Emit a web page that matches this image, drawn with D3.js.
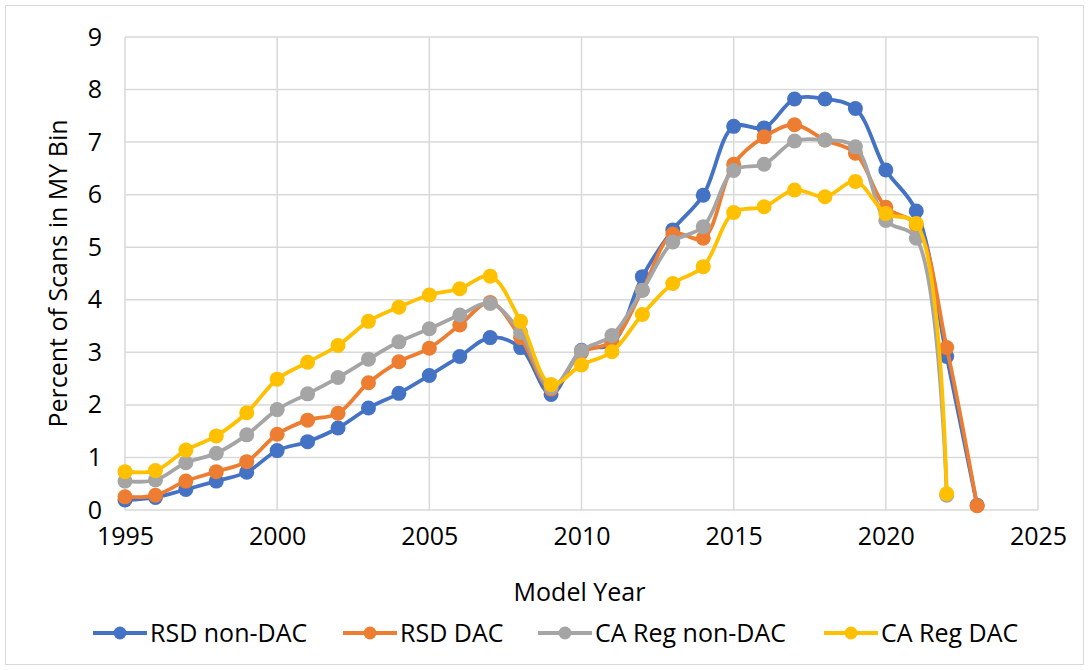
<!DOCTYPE html>
<html>
<head>
<meta charset="utf-8">
<script src="https://cdn.jsdelivr.net/npm/d3@7"></script>
<style>
  html, body { margin: 0; padding: 0; background: #fff; }
  svg text { font-family: "Open Sans", "Noto Sans", sans-serif; fill: #000; }
</style>
</head>
<body>
<svg id="chart" width="1089" height="670"></svg>
<script>
// ---- data ----
var years = [1995, 1996, 1997, 1998, 1999, 2000, 2001, 2002, 2003, 2004,
             2005, 2006, 2007, 2008, 2009, 2010, 2011, 2012, 2013, 2014,
             2015, 2016, 2017, 2018, 2019, 2020, 2021, 2022, 2023];

var rsdNonDac = [0.19, 0.24, 0.39, 0.55, 0.72, 1.13, 1.30, 1.56, 1.94, 2.22,
                 2.56, 2.92, 3.28, 3.09, 2.20, 3.04, 3.16, 4.44, 5.33, 5.99,
                 7.30, 7.27, 7.82, 7.82, 7.64, 6.47, 5.69, 2.92, 0.09];
var rsdDac    = [0.25, 0.28, 0.55, 0.73, 0.92, 1.44, 1.71, 1.84, 2.42, 2.82,
                 3.08, 3.52, 3.95, 3.28, 2.30, 3.00, 3.20, 4.18, 5.25, 5.17,
                 6.58, 7.10, 7.33, 7.04, 6.79, 5.76, 5.42, 3.09, 0.08];
var caNonDac  = [0.55, 0.57, 0.90, 1.08, 1.43, 1.91, 2.21, 2.52, 2.87, 3.20,
                 3.45, 3.71, 3.93, 3.38, 2.33, 3.03, 3.32, 4.18, 5.10, 5.39,
                 6.46, 6.58, 7.02, 7.04, 6.91, 5.51, 5.17, 0.28, null];
var caDac     = [0.73, 0.75, 1.14, 1.41, 1.85, 2.49, 2.81, 3.13, 3.59, 3.86,
                 4.09, 4.21, 4.45, 3.59, 2.39, 2.76, 3.01, 3.72, 4.31, 4.63,
                 5.66, 5.77, 6.09, 5.96, 6.25, 5.64, 5.45, 0.31, null];

var seriesNames  = ['RSD non-DAC', 'RSD DAC', 'CA Reg non-DAC', 'CA Reg DAC'];
var seriesValues = [rsdNonDac, rsdDac, caNonDac, caDac];
var seriesColors = ['#4472C4', '#ED7D31', '#A5A5A5', '#FFC000'];

var xTicks = [1995, 2000, 2005, 2010, 2015, 2020, 2025];
var yTicks = [0, 1, 2, 3, 4, 5, 6, 7, 8, 9];

// ---- layout ----
var W = 1089, H = 670;
var svg = d3.select('#chart');
var grid = '#d9d9d9';
var FS = 25;

// chart area border
svg.append('rect')
  .attr('x', 5.5).attr('y', 5.5)
  .attr('width', W - 11).attr('height', H - 11)
  .attr('fill', '#fff').attr('stroke', grid).attr('stroke-width', 1);

var x = d3.scaleLinear().domain([1995, 2025]).range([125, 1038]);
var y = d3.scaleLinear().domain([0, 9]).range([510, 37]);

// gridlines
svg.append('g')
  .selectAll('line.h')
  .data(yTicks)
  .join('line')
  .attr('x1', x(1995)).attr('x2', x(2025))
  .attr('y1', function (d) { return y(d); })
  .attr('y2', function (d) { return y(d); })
  .attr('stroke', grid).attr('stroke-width', 1.5);

svg.append('g')
  .selectAll('line.v')
  .data(xTicks)
  .join('line')
  .attr('y1', y(0)).attr('y2', y(9))
  .attr('x1', function (d) { return x(d); })
  .attr('x2', function (d) { return x(d); })
  .attr('stroke', grid).attr('stroke-width', 1.5);

// axes (labels only, lines come from gridlines)
var xAxis = d3.axisBottom(x).tickValues(xTicks).tickFormat(d3.format('d')).tickSize(0).tickPadding(17);
var gx = svg.append('g').attr('transform', 'translate(0,' + y(0) + ')').call(xAxis);
gx.select('.domain').remove();
gx.selectAll('text').style('font-size', FS + 'px').attr('dy', '0.71em');

var yAxis = d3.axisLeft(y).tickValues(yTicks).tickSize(0).tickPadding(23);
var gy = svg.append('g').attr('transform', 'translate(' + x(1995) + ',0)').call(yAxis);
gy.select('.domain').remove();
gy.selectAll('text').style('font-size', FS + 'px');

// axis titles
svg.append('text')
  .attr('x', (x(1995) + x(2025)) / 2 - 2).attr('y', 601)
  .attr('text-anchor', 'middle').style('font-size', FS + 'px')
  .text('Model Year');

svg.append('text')
  .attr('transform', 'translate(67,' + ((y(0) + y(9)) / 2) + ') rotate(-90)')
  .attr('text-anchor', 'middle').style('font-size', FS + 'px')
  .text('Percent of Scans in MY Bin');

// series
var line = d3.line()
  .defined(function (d) { return d[1] != null; })
  .x(function (d) { return x(d[0]); })
  .y(function (d) { return y(d[1]); })
  .curve(d3.curveCatmullRom.alpha(0.5));

seriesValues.forEach(function (vals, i) {
  var pts = years.map(function (yr, j) { return [yr, vals[j]]; })
    .filter(function (d) { return d[1] != null; });
  var g = svg.append('g');
  g.append('path')
    .attr('d', line(pts))
    .attr('fill', 'none')
    .attr('stroke', seriesColors[i])
    .attr('stroke-width', 3.8)
    .attr('stroke-linejoin', 'round');
  g.selectAll('circle')
    .data(pts)
    .join('circle')
    .attr('cx', function (d) { return x(d[0]); })
    .attr('cy', function (d) { return y(d[1]); })
    .attr('r', 7.5)
    .attr('fill', seriesColors[i]);
});

// legend
var legendX = [93, 343, 538, 824];
var legendY = 633;
var lg = svg.append('g')
  .selectAll('g')
  .data(seriesNames)
  .join('g')
  .attr('transform', function (d, i) { return 'translate(' + legendX[i] + ',' + legendY + ')'; });

lg.append('line')
  .attr('x1', 0).attr('x2', 54).attr('y1', 0).attr('y2', 0)
  .attr('stroke', function (d, i) { return seriesColors[i]; })
  .attr('stroke-width', 3.8);
lg.append('circle')
  .attr('cx', 27).attr('cy', 0).attr('r', 6.5)
  .attr('fill', function (d, i) { return seriesColors[i]; });
lg.append('text')
  .attr('x', 57).attr('y', 0).attr('dy', '0.35em')
  .style('font-size', FS + 'px')
  .text(function (d) { return d; });
</script>
</body>
</html>
